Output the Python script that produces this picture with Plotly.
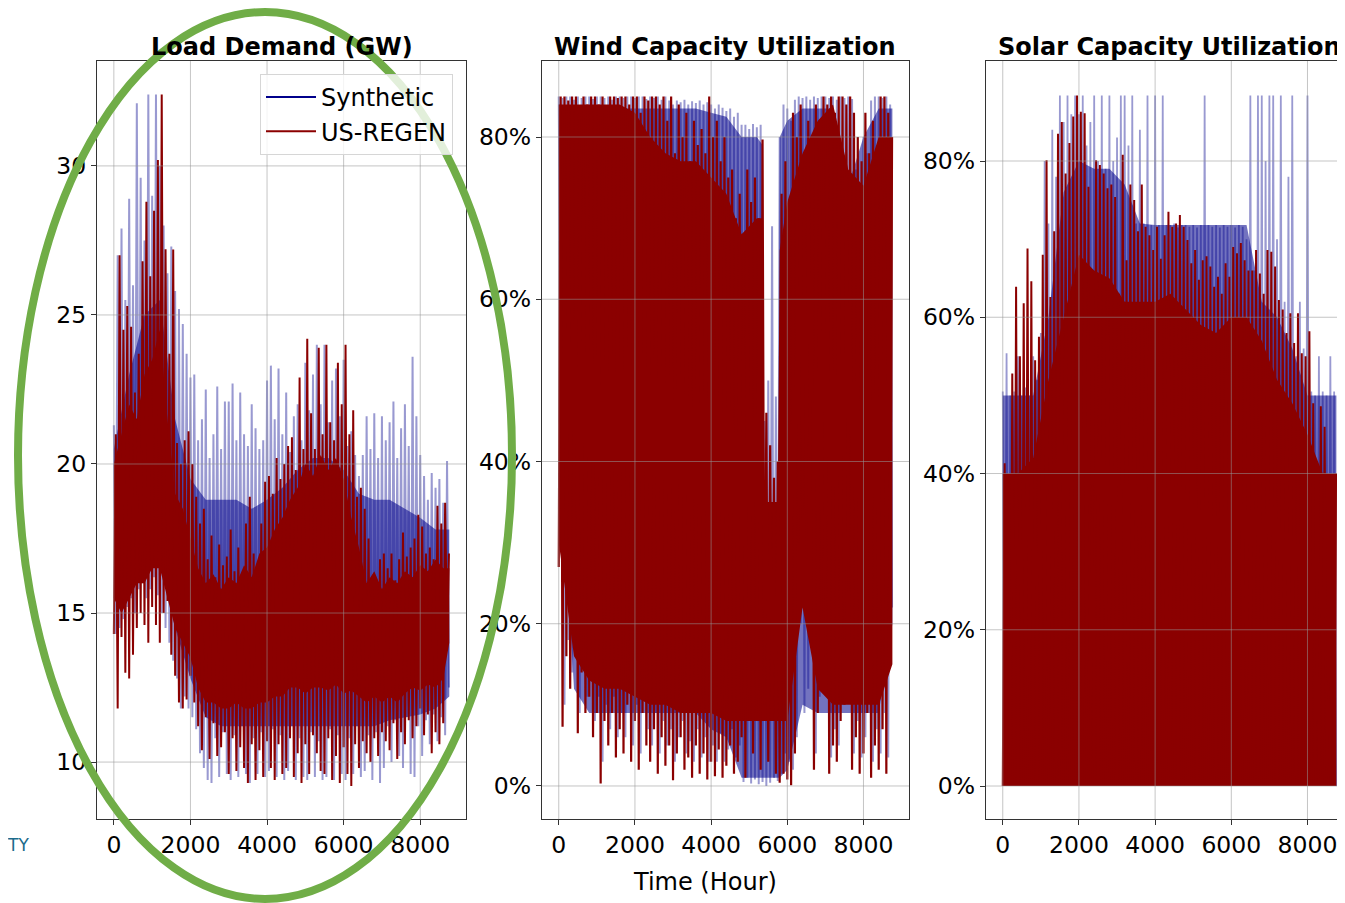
import plotly.graph_objects as go

# ---------------- data ----------------
# Hourly series are too dense to draw hour by hour at this size, so each series is
# described by (a) its dense core band and (b) per-100-hour extreme spikes.
bin_hours = list(range(0, 8800, 100))  # 88 bins covering hours 0..8759
core_hours = [0, 400, 800, 1200, 1600, 2000, 2400, 2800, 3200, 3600, 4000, 4400,
              4800, 5200, 5600, 6000, 6400, 6800, 7200, 7600, 8000, 8400, 8759]
fine_core_hours = list(range(0, 8800, 200)) + [8759]  # 45 knots
wind_core_hours = [0, 400, 800, 1200, 1600, 2000, 2400, 2800, 3200, 3600, 4000, 4400,
                   4800, 5200, 5350, 5400, 5750, 5800, 6000, 6400, 6800, 7200, 7600,
                   8000, 8400, 8759]

# Load demand (GW): spikes (per-bin lowest / highest)
load_regen_hi = [21.0, 27.0, 24.5, 25.3, 24.6, 22.4, 23.7, 26.8, 28.8, 26.3,
                 28.5, 30.2, 32.4, 27.2, 23.7, 27.2, 20.7, 20.0, 20.8, 21.1,
                 20.0, 18.9, 18.0, 18.5, 16.8, 17.6, 16.2, 17.3, 16.6, 16.9,
                 17.8, 16.4, 17.2, 16.2, 18.0, 18.9, 17.0, 16.5, 18.0, 19.4,
                 19.6, 19.0, 20.2, 19.5, 20.0, 20.6, 20.9, 19.8, 22.9, 20.5,
                 24.2, 21.7, 20.5, 23.9, 21.0, 24.0, 21.4, 20.8, 23.4, 22.0,
                 24.0, 21.0, 21.8, 18.9, 19.2, 18.5, 17.5, 15.9, 16.1, 16.8,
                 17.0, 16.5, 17.0, 16.1, 16.8, 17.7, 16.9, 17.2, 17.5, 18.3,
                 17.9, 17.0, 17.2, 16.8, 18.6, 18.0, 18.7, 17.0]
load_regen_lo = [14.3, 11.8, 14.2, 13.0, 12.8, 13.6, 14.5, 15.0, 14.6, 14.0,
                 15.2, 14.6, 14.0, 15.0, 15.4, 13.6, 12.9, 12.0, 11.8, 12.1,
                 12.9, 12.0, 11.2, 10.4, 11.5, 10.1, 11.3, 10.2, 10.5, 11.0,
                 9.6, 10.8, 9.7, 10.5, 9.8, 9.3, 10.6, 9.4, 10.4, 9.5,
                 10.7, 9.8, 9.4, 10.6, 9.6, 9.8, 10.8, 9.5, 10.3, 9.3,
                 10.6, 9.6, 10.9, 10.3, 9.7, 9.6, 10.8, 9.4, 10.2, 9.3,
                 10.5, 9.6, 9.2, 10.6, 9.8, 10.7, 10.3, 10.0, 10.8, 10.2,
                 11.0, 10.7, 10.4, 11.3, 10.1, 11.0, 10.6, 11.4, 10.8, 11.2,
                 11.8, 10.9, 11.6, 10.3, 11.0, 10.6, 11.3, 14.1]
load_syn_hi = [21.3, 27.0, 27.9, 25.5, 28.9, 26.0, 32.1, 29.6, 27.5, 32.4,
               29.0, 32.4, 30.0, 28.0, 26.4, 27.3, 25.8, 25.2, 24.7, 23.7,
               22.9, 23.0, 20.8, 21.5, 22.5, 20.2, 21.0, 22.6, 20.5, 22.1,
               22.1, 22.7, 20.8, 22.4, 21.0, 20.6, 22.0, 21.2, 20.5, 20.8,
               22.8, 23.3, 21.5, 23.2, 21.0, 22.4, 20.4, 21.6, 22.0, 20.8,
               23.4, 21.8, 23.0, 24.0, 22.0, 24.0, 21.4, 22.8, 23.2, 21.6,
               23.5, 20.6, 21.1, 20.3, 19.6, 20.3, 21.6, 20.5, 21.7, 20.2,
               21.6, 20.8, 21.4, 22.1, 20.2, 21.2, 22.0, 20.6, 23.6, 21.6,
               20.3, 19.6, 18.8, 19.7, 19.2, 19.5, 18.7, 20.1]
load_syn_lo = [14.3, 14.5, 14.8, 15.2, 15.5, 15.0, 15.8, 16.0, 15.5, 15.8,
               16.2, 15.6, 15.0, 14.5, 14.0, 13.4, 12.8, 11.8, 12.2, 11.8,
               11.5, 11.1, 10.3, 9.8, 9.4, 9.3, 10.8, 9.5, 11.0, 9.6,
               9.4, 10.9, 9.5, 11.2, 9.6, 9.3, 10.8, 9.6, 11.0, 9.5,
               9.7, 11.1, 9.5, 10.9, 9.4, 9.7, 11.2, 9.4, 10.8, 9.5,
               9.4, 11.0, 9.5, 10.7, 9.4, 9.5, 11.1, 9.4, 10.9, 9.6,
               9.4, 10.8, 9.6, 11.2, 9.5, 9.7, 10.9, 9.4, 11.0, 9.3,
               9.8, 11.2, 10.0, 11.4, 10.2, 9.8, 11.5, 9.6, 9.5, 11.2,
               10.2, 11.4, 10.6, 11.6, 10.7, 11.5, 10.9, 12.5]
# Load dense core band
load_regen_core_lo = [15.5, 15.0, 15.5, 16.0, 16.0, 16.5, 16.5, 15.5, 14.5, 14.0,
                      13.5, 12.5, 12.0, 12.0, 11.8, 11.8, 12.0, 11.8, 11.8, 12.0,
                      12.0, 12.2, 12.2, 12.5, 12.5, 12.3, 12.5, 12.5, 12.4, 12.6,
                      12.3, 12.4, 12.2, 12.0, 12.2, 12.0, 12.2, 12.0, 12.3, 12.5,
                      12.4, 12.6, 12.5, 12.8, 14.0]
load_regen_core_hi = [20.0, 21.0, 22.0, 21.5, 23.0, 23.5, 24.5, 21.5, 19.0, 18.5,
                      17.5, 16.5, 16.0, 16.3, 15.8, 16.2, 16.0, 16.6, 16.2, 17.0,
                      17.2, 17.8, 18.2, 18.8, 19.2, 20.0, 19.6, 20.3, 19.8, 20.2,
                      19.5, 18.2, 17.2, 16.0, 16.4, 15.8, 16.2, 16.0, 16.4, 16.2,
                      16.6, 16.4, 16.8, 16.5, 16.5]
load_syn_core_lo = [15.5, 16.0, 17.0, 17.0, 14.5, 12.8, 11.5, 11.2, 11.2, 11.2, 11.2, 11.2,
                    11.2, 11.2, 11.2, 11.2, 11.2, 11.2, 11.4, 11.5, 11.6, 11.8, 12.2]
load_syn_core_hi = [20.5, 23.0, 25.0, 25.5, 21.5, 19.5, 18.8, 18.8, 18.8, 18.5, 18.8, 19.2,
                    19.8, 20.2, 20.2, 19.8, 19.0, 18.8, 18.8, 18.5, 18.2, 17.8, 17.8]

# Wind capacity utilization (%): spikes
wind_regen_hi = [85.0, 85.0, 84.5, 85.0, 85.0, 83.0, 85.0, 84.0, 85.0, 85.0,
                 84.0, 85.0, 83.5, 85.0, 85.0, 84.8, 85.0, 85.0, 84.0, 85.0,
                 85.0, 83.0, 85.0, 84.5, 85.0, 85.0, 84.0, 85.0, 82.0, 85.0,
                 78.0, 84.0, 80.0, 83.0, 77.0, 82.0, 79.0, 81.0, 78.0, 85.0,
                 80.0, 82.0, 77.0, 80.0, 75.0, 76.0, 70.0, 73.0, 66.0, 76.0,
                 72.0, 75.0, 70.0, 79.7, 46.0, 42.0, 38.0, 40.0, 73.0, 77.0,
                 69.0, 83.0, 80.0, 84.0, 77.0, 82.0, 76.0, 84.0, 79.0, 85.0,
                 84.0, 85.0, 83.0, 85.0, 85.0, 84.0, 85.0, 83.0, 80.0, 77.0,
                 83.0, 78.0, 82.0, 77.0, 85.0, 85.0, 83.0, 80.0]
wind_regen_lo = [27.0, 7.3, 16.0, 12.0, 17.0, 6.5, 14.0, 9.0, 11.0, 6.0,
                 9.0, 0.3, 8.0, 5.0, 9.0, 3.5, 7.0, 4.0, 10.0, 3.0,
                 8.0, 2.0, 9.0, 5.0, 3.0, 7.0, 1.5, 6.0, 2.5, 5.0,
                 0.7, 4.0, 6.0, 2.0, 3.5, 1.0, 5.0, 1.5, 4.0, 0.8,
                 3.0, 1.2, 4.5, 1.0, 2.5, 5.0, 1.5, 3.0, 6.0, 1.0,
                 8.0, 4.0, 9.0, 2.0, 10.0, 3.0, 8.0, 1.5, 0.4, 1.5,
                 0.8, 0.1, 4.0, 30.0, 33.0, 28.0, 40.0, 2.0, 9.0, 20.0,
                 16.0, 1.5, 5.0, 3.0, 8.0, 10.0, 24.0, 2.0, 6.0, 1.5,
                 4.0, 9.0, 1.0, 5.0, 2.0, 7.0, 1.5, 20.0]
wind_syn_hi = [85.0, 84.8, 85.0, 85.0, 84.6, 85.0, 84.8, 85.0, 85.0, 84.7,
               85.0, 85.0, 84.8, 85.0, 84.6, 85.0, 85.0, 84.8, 85.0, 85.0,
               84.8, 85.0, 85.0, 84.7, 85.0, 84.8, 85.0, 84.6, 85.0, 84.5,
               84.0, 84.5, 84.3, 84.6, 84.0, 84.4, 84.2, 84.5, 84.0, 84.3,
               84.0, 83.5, 84.0, 83.6, 83.2, 83.5, 82.5, 83.0, 81.5, 81.5,
               81.0, 81.6, 81.2, 81.5, 45.0, 50.0, 69.0, 48.0, 80.0, 84.0,
               83.5, 82.0, 84.6, 85.0, 84.8, 85.0, 84.6, 85.0, 84.8, 85.0,
               85.0, 84.8, 85.0, 84.6, 85.0, 84.8, 85.0, 84.7, 76.0, 72.0,
               80.0, 78.0, 84.5, 85.0, 85.0, 84.8, 85.0, 84.0]
wind_syn_lo = [45.0, 10.0, 18.0, 14.0, 19.0, 9.0, 16.0, 11.0, 13.0, 8.0,
               11.0, 3.0, 10.0, 7.0, 11.0, 6.0, 9.0, 6.0, 12.0, 5.0,
               10.0, 4.0, 11.0, 7.0, 5.0, 9.0, 4.0, 8.0, 5.0, 7.0,
               3.0, 6.0, 8.0, 4.0, 5.5, 3.0, 7.0, 3.5, 6.0, 3.0,
               5.0, 3.0, 6.5, 3.0, 4.5, 7.0, 3.5, 5.0, 0.5, 1.0,
               0.3, 0.8, 0.2, 0.5, 0.0, 0.4, 1.0, 0.6, 1.5, 4.0,
               3.0, 2.0, 6.0, 20.0, 9.0, 12.0, 25.0, 4.0, 11.0, 15.0,
               18.0, 3.5, 7.0, 5.0, 10.0, 12.0, 14.0, 4.0, 8.0, 3.5,
               6.0, 11.0, 3.0, 7.0, 4.0, 9.0, 3.5, 22.0]
# Wind dense core band
wind_regen_core_lo = [30, 16, 13, 12, 12, 11, 10, 10, 9, 9, 9, 8, 8, 8, 8, 8, 8, 8, 8,
                      22, 12, 10, 10, 10, 10, 15]
wind_regen_core_hi = [84, 84, 84, 84, 84, 83, 80, 78, 77, 77, 75, 73, 68, 70, 70, 35, 35, 66, 72,
                      78, 82, 84, 76, 74, 80, 80]
wind_syn_core_lo = [45, 12, 9, 9, 9, 9, 9, 9, 9, 9, 7, 6, 1, 1, 1, 1, 1, 1, 2,
                    10, 9, 9, 9, 9, 9, 20]
wind_syn_core_hi = [84.0, 83.5, 83.5, 83.5, 83.5, 83.5, 83.5, 83.5, 83.5, 83.5, 83.0, 82.5,
                    80.0, 80.0, 79.0, 8.0, 8.0, 80.0, 82.0, 83.5, 83.5, 83.5, 74.0, 80.0,
                    83.5, 83.5]

# Solar capacity utilization (%): per-bin daily peak (nights are 0)
solar_regen_hi = [41.3, 24.0, 52.8, 63.9, 55.0, 61.8, 68.8, 64.6, 54.5, 57.5,
                  68.0, 80.1, 62.6, 71.0, 83.5, 85.0, 78.4, 82.3, 85.7, 88.4,
                  86.3, 86.1, 76.7, 38.7, 80.1, 79.5, 78.4, 76.5, 77.0, 75.4,
                  63.0, 80.8, 67.3, 77.0, 75.0, 71.0, 77.0, 71.6, 70.5, 68.6,
                  71.6, 67.5, 70.5, 73.5, 71.6, 72.0, 73.1, 71.6, 69.9, 66.9,
                  68.6, 64.8, 67.3, 67.8, 66.5, 63.9, 65.2, 63.0, 66.9, 65.2,
                  69.0, 68.2, 69.5, 67.3, 66.0, 66.0, 68.6, 65.6, 63.0, 68.6,
                  68.4, 66.5, 62.2, 61.0, 58.0, 60.5, 56.7, 60.5, 55.4, 55.0,
                  58.2, 49.0, 18.0, 48.6, 46.0, 13.6, 29.0, 40.0]
solar_syn_hi = [50.5, 55.4, 50.0, 50.5, 55.0, 50.0, 51.0, 50.0, 55.0, 52.0,
                58.0, 80.0, 72.0, 84.0, 78.0, 88.4, 85.0, 88.4, 86.0, 88.4,
                86.0, 88.4, 82.0, 85.0, 88.4, 80.0, 88.4, 79.0, 88.4, 80.0,
                83.0, 88.4, 88.4, 82.0, 88.4, 72.0, 84.0, 72.0, 88.4, 71.8,
                88.4, 71.8, 88.4, 71.8, 71.8, 72.0, 71.5, 71.8, 71.8, 71.6,
                71.8, 71.5, 71.8, 88.4, 71.8, 71.6, 71.8, 71.5, 71.8, 71.6,
                71.8, 71.5, 71.8, 71.6, 70.0, 88.4, 66.0, 88.4, 88.4, 80.0,
                88.4, 88.4, 70.0, 88.4, 62.0, 78.0, 88.4, 55.0, 62.0, 56.0,
                88.4, 50.5, 50.0, 55.0, 50.5, 50.0, 55.0, 50.5]
solar_night = [0.0] * len(bin_hours)
# Solar dense envelope
solar_regen_core = [40, 40, 42, 52, 60, 68, 66, 65, 62, 62, 62, 63,
                    61, 59, 58, 60, 60, 57, 52, 49, 45, 40, 40]
solar_syn_core = [50, 50, 50, 60, 76, 80, 79, 79, 77, 72, 71.8, 71.8,
                  71.8, 71.8, 71.8, 71.8, 71.8, 62, 60, 56, 50, 50, 50]

x_ticks = [0, 2000, 4000, 6000, 8000]
load_ticks = [10, 15, 20, 25, 30]
pct_ticks = [0, 20, 40, 60, 80]
pct_labels = ["0%", "20%", "40%", "60%", "80%"]
titles = ["Load Demand (GW)", "Wind Capacity Utilization", "Solar Capacity Utilization"]
series_names = ["Synthetic", "US-REGEN"]

# ---------------- styling ----------------
W, H = 1345, 903
OFF = 8  # page body margin of the html page
BLUE = "#00008B"
BLUE_BAND = "rgba(0,0,139,0.55)"
BLUE_LINE = "rgba(0,0,139,0.40)"
RED = "#8B0000"
FONT = "DejaVu Sans"
GRID = "rgba(150,150,150,0.55)"


def px(x):
    return (x - OFF) / W


def py(y):
    return 1 - (y - OFF) / H


def zigzag(lo, hi, lo_first=True):
    xs, ys = [], []
    for h, a, b in zip(bin_hours, lo, hi):
        xs += [h, h + 50]
        ys += [a, b] if lo_first else [b, a]
    return xs, ys


fig = go.Figure()


def add_band(hours, lo, hi, color, xa, ya):
    fig.add_trace(go.Scatter(x=hours, y=lo, mode="lines", line=dict(width=0, color=color),
                             showlegend=False, hoverinfo="skip", xaxis=xa, yaxis=ya))
    fig.add_trace(go.Scatter(x=hours, y=hi, mode="lines", line=dict(width=0, color=color),
                             fill="tonexty", fillcolor=color,
                             showlegend=False, hoverinfo="skip", xaxis=xa, yaxis=ya))


def add_spikes(lo, hi, color, width, xa, ya, lo_first=True):
    xs, ys = zigzag(lo, hi, lo_first)
    fig.add_trace(go.Scatter(x=xs, y=ys, mode="lines", line=dict(color=color, width=width),
                             showlegend=False, hoverinfo="skip", xaxis=xa, yaxis=ya))


# Panel 1: load
add_band(core_hours, load_syn_core_lo, load_syn_core_hi, BLUE_BAND, "x", "y")
add_spikes(load_syn_lo, load_syn_hi, BLUE_LINE, 2.0, "x", "y", lo_first=False)
add_band(fine_core_hours, load_regen_core_lo, load_regen_core_hi, RED, "x", "y")
add_spikes(load_regen_lo, load_regen_hi, RED, 2.0, "x", "y")

# Panel 2: wind
add_band(wind_core_hours, wind_syn_core_lo, wind_syn_core_hi, BLUE_BAND, "x2", "y2")
add_spikes(wind_syn_lo, wind_syn_hi, BLUE_LINE, 2.0, "x2", "y2", lo_first=False)
add_band(wind_core_hours, wind_regen_core_lo, wind_regen_core_hi, RED, "x2", "y2")
add_spikes(wind_regen_lo, wind_regen_hi, RED, 2.2, "x2", "y2")

# Panel 3: solar
fig.add_trace(go.Scatter(x=core_hours, y=solar_syn_core, mode="lines", line=dict(width=0, color=BLUE_BAND),
                         fill="tozeroy", fillcolor=BLUE_BAND,
                         showlegend=False, hoverinfo="skip", xaxis="x3", yaxis="y3"))
add_spikes(solar_night, solar_syn_hi, BLUE_LINE, 1.8, "x3", "y3", lo_first=False)
fig.add_trace(go.Scatter(x=core_hours, y=solar_regen_core, mode="lines", line=dict(width=0, color=RED),
                         fill="tozeroy", fillcolor=RED,
                         showlegend=False, hoverinfo="skip", xaxis="x3", yaxis="y3"))
add_spikes(solar_night, solar_regen_hi, RED, 2.0, "x3", "y3")

# legend entries
for name, col in zip(series_names, [BLUE, RED]):
    fig.add_trace(go.Scatter(x=[None], y=[None], mode="lines", name=name,
                             line=dict(color=col, width=2), xaxis="x", yaxis="y"))

axis_common = dict(showgrid=False, zeroline=False, showline=True, linecolor="#333333",
                   linewidth=1.3, ticks="outside", ticklen=5, tickwidth=1.3, tickcolor="#333333",
                   tickfont=dict(family=FONT, size=23.5, color="black"))

x_range = [-440, 9195]
y_dom = [py(819), py(61)]

fig.update_layout(
    width=W, height=H,
    margin=dict(l=0, r=0, t=0, b=0),
    paper_bgcolor="white", plot_bgcolor="white",
    showlegend=True,
    legend=dict(x=px(453), xanchor="right", y=py(74), yanchor="top", traceorder="normal",
                bgcolor="rgba(255,255,255,0.8)", bordercolor="#d6d6d6", borderwidth=1,
                font=dict(family=FONT, size=24, color="black"), itemwidth=50),
    xaxis=dict(domain=[px(97), px(466)], range=x_range, anchor="y", mirror=True,
               tickvals=x_ticks, **axis_common),
    yaxis=dict(domain=y_dom, range=[8.09, 33.52], anchor="x", mirror=True,
               tickvals=load_ticks, **axis_common),
    xaxis2=dict(domain=[px(542), px(909)], range=x_range, anchor="y2", mirror=True,
                tickvals=x_ticks, **axis_common),
    yaxis2=dict(domain=y_dom, range=[-4.07, 89.37], anchor="x2", mirror=True,
                tickvals=pct_ticks, ticktext=pct_labels, **axis_common),
    xaxis3=dict(domain=[px(986), 1.0], range=x_range, anchor="y3", mirror=True,
                tickvals=x_ticks, **axis_common),
    yaxis3=dict(domain=y_dom, range=[-4.22, 92.8], anchor="x3", mirror=False,
                tickvals=pct_ticks, ticktext=pct_labels, **axis_common),
)

# grid lines drawn above the data, as in the reference
shapes = []
for xa, ya, yt in [("x", "y", load_ticks), ("x2", "y2", pct_ticks), ("x3", "y3", pct_ticks)]:
    for t in x_ticks:
        shapes.append(dict(type="line", xref=xa, yref=ya + " domain", x0=t, x1=t, y0=0, y1=1,
                           line=dict(color=GRID, width=1), layer="above"))
    for t in yt:
        shapes.append(dict(type="line", xref=xa + " domain", yref=ya, x0=0, x1=1, y0=t, y1=t,
                           line=dict(color=GRID, width=1), layer="above"))

# green highlight ellipse around the first panel
shapes.append(dict(type="circle", xref="paper", yref="paper",
                   x0=px(18), x1=px(512), y0=py(899), y1=py(12),
                   line=dict(color="#70AD47", width=8), layer="above"))
fig.update_layout(shapes=shapes)

annotations = []
for title, cx in zip(titles, [282, 725, 1169]):
    annotations.append(dict(text="<b>" + title + "</b>", x=px(cx), y=py(47), xref="paper", yref="paper",
                            xanchor="center", yanchor="middle", showarrow=False,
                            font=dict(family=FONT, size=24, color="black")))
annotations.append(dict(text="Time (Hour)", x=px(705), y=py(882), xref="paper", yref="paper",
                        xanchor="center", yanchor="middle", showarrow=False,
                        font=dict(family=FONT, size=24, color="black")))
annotations.append(dict(text="TY", x=px(5), y=py(845), xref="paper", yref="paper",
                        xanchor="left", yanchor="middle", showarrow=False,
                        font=dict(family=FONT, size=17, color="#1C6B8C")))
fig.update_layout(annotations=annotations)

fig.write_html("out.html")
